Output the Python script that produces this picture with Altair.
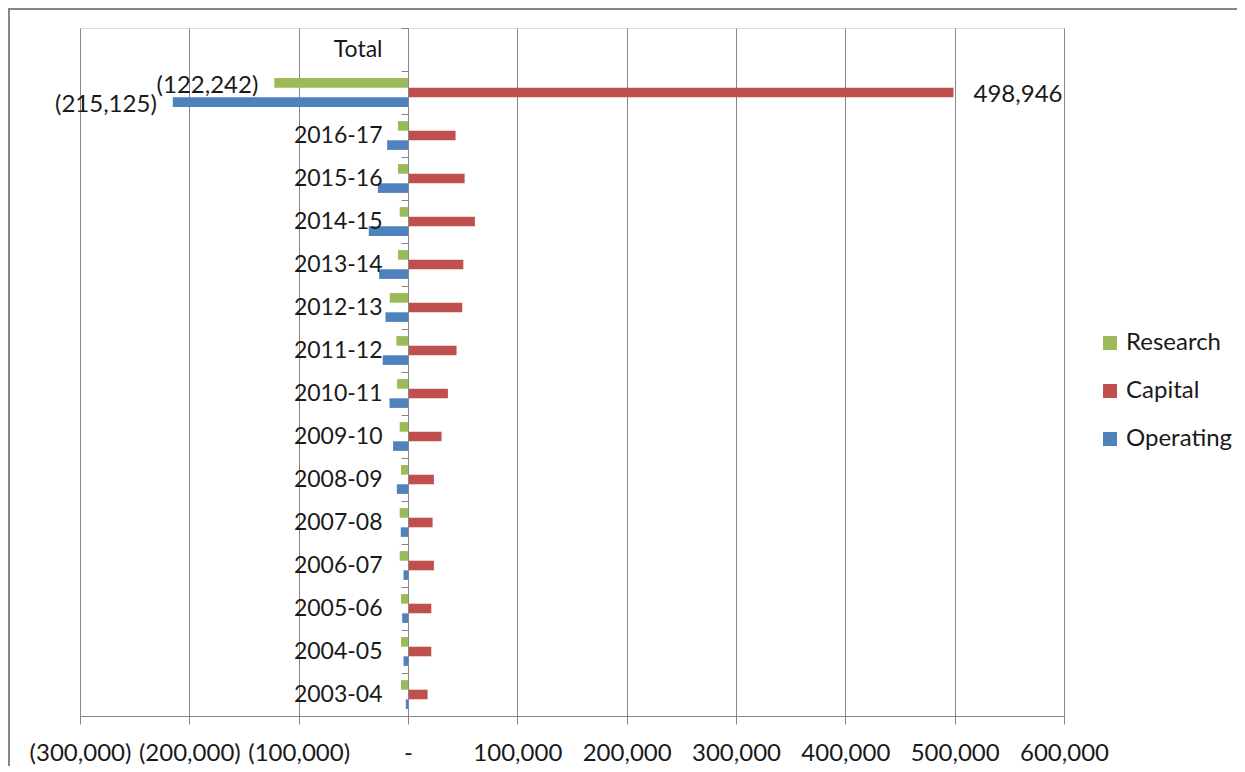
import altair as alt
import pandas as pd

categories = ["Total", "Total values", "2016-17", "2015-16", "2014-15", "2013-14",
              "2012-13", "2011-12", "2010-11", "2009-10", "2008-09", "2007-08",
              "2006-07", "2005-06", "2004-05", "2003-04"]
data_rows = categories[1:]
research = [-122242, -9200, -9200, -7600, -9200, -16700, -10600, -10000, -7600,
            -6400, -7600, -7600, -6400, -6400, -6400]
capital = [498946, 43500, 51800, 61200, 50600, 49600, 44400, 36500, 30700,
           23700, 22500, 23700, 21300, 21300, 17900]
operating = [-215125, -19100, -27600, -35900, -26400, -20600, -23100, -16900, -13600,
             -10200, -6600, -4100, -5300, -4100, -2000]
series = ["Research", "Capital", "Operating"]
colors = ["#9BBB59", "#C0504D", "#4F81BD"]
x_ticks = [-300000, -200000, -100000, 0, 100000, 200000, 300000, 400000, 500000, 600000]


def fmt(v):
    return f"({abs(v):,})" if v < 0 else f"{v:,}"


rows = []
for i, c in enumerate(data_rows):
    for s, vals in zip(series, [research, capital, operating]):
        rows.append({"category": c, "series": s, "value": vals[i],
                     "label": fmt(vals[i]) if c == "Total values" else ""})
df = pd.DataFrame(rows)

FONT = "Lato"
GRAY = "#868686"
TXT = "#1a1a1a"

x_enc = alt.X(
    "value:Q",
    scale=alt.Scale(domain=[-300000, 600000], nice=False),
    axis=alt.Axis(
        title=None, values=x_ticks, grid=True, gridColor=GRAY, gridWidth=1,
        domainColor=GRAY, tickColor=GRAY, tickSize=8, labelPadding=17,
        labelFontSize=24, labelColor=TXT, labelFont=FONT,
        labelOverlap=False, labelBound=False, labelFlush=False,
        labelExpr="datum.value == 0 ? '-' : (datum.value < 0 ? '(' + format(-datum.value, ',') + ')' : format(datum.value, ','))",
    ),
)
y_enc = alt.Y(
    "category:N",
    scale=alt.Scale(domain=categories, paddingInner=0, paddingOuter=0),
    axis=alt.Axis(
        title=None, offset=-328, tickBand="extent", tickSize=7, labelPadding=19,
        domainColor=GRAY, tickColor=GRAY, labelFontSize=23, labelColor=TXT,
        labelFont=FONT, zindex=1, grid=False, labelOverlap=False,
        labelExpr="datum.value == 'Total values' ? '' : datum.value",
    ),
)
yoff = alt.YOffset("series:N", scale=alt.Scale(domain=series, paddingOuter=0.74, paddingInner=0))

base = alt.Chart(df)

bars = base.mark_bar().encode(
    x=x_enc, y=y_enc, yOffset=yoff,
    color=alt.Color(
        "series:N",
        scale=alt.Scale(domain=series, range=colors),
        legend=alt.Legend(
            title=None, orient="none", legendX=1018, legendY=303,
            symbolType="square", symbolSize=196, symbolStrokeWidth=0,
            labelFontSize=24, labelFont=FONT, labelColor=TXT,
            rowPadding=24, labelOffset=4,
        ),
    ),
)

neg_labels = base.transform_filter(
    "datum.label != '' && datum.value < 0"
).mark_text(align="right", baseline="middle", dx=-16, dy=3, fontSize=24, font=FONT, color=TXT).encode(
    x=alt.X("value:Q"), y=alt.Y("category:N"), yOffset=yoff, text="label:N"
)
pos_labels = base.transform_filter(
    "datum.label != '' && datum.value > 0"
).mark_text(align="left", baseline="middle", dx=20, dy=2, fontSize=24, font=FONT, color=TXT).encode(
    x=alt.X("value:Q"), y=alt.Y("category:N"), yOffset=yoff, text="label:N"
)

border = alt.Chart(pd.DataFrame({"frame": [0]})).mark_rect(
    fill=None, stroke=GRAY, strokeWidth=2
).encode(
    x=alt.value(-71), x2=alt.value(1300), y=alt.value(-19), y2=alt.value(900)
)

chart = alt.layer(bars, neg_labels, pos_labels, border).properties(
    width=984, height=688,
    autosize=alt.AutoSizeParams(type="none"),
    padding={"left": 72, "top": 20, "right": 173, "bottom": 50},
).configure_view(stroke=None).configure(background="white")

chart.save("out.html", embed_options={"renderer": "svg", "actions": False})
